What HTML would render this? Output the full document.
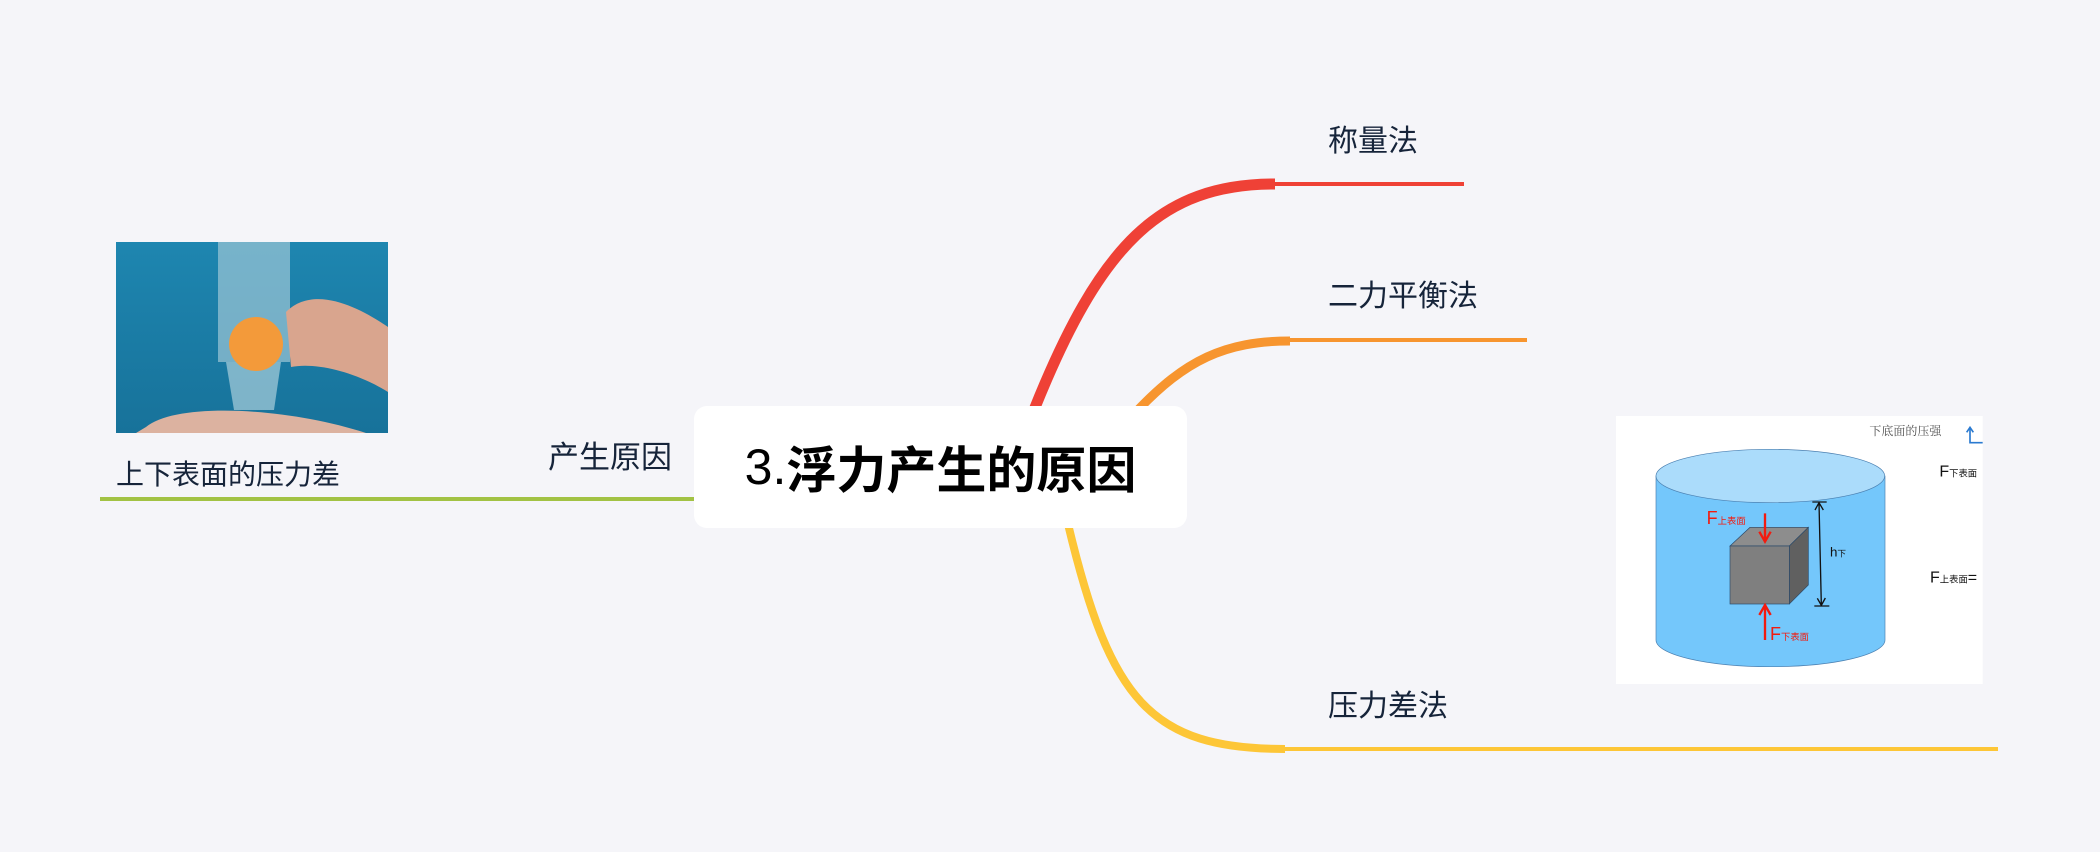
<!DOCTYPE html>
<html><head><meta charset="utf-8"><style>
html,body{margin:0;padding:0}
body{width:2100px;height:852px;background:#f5f5f9;position:relative;overflow:hidden;font-family:"Liberation Sans","Noto Sans CJK SC",sans-serif}
.t{position:absolute;font-size:30px;color:#16243a;line-height:1;white-space:nowrap}
#box{position:absolute;left:694px;top:406px;width:493px;height:122px;background:#fff;border-radius:13px}
#box span{position:absolute;left:0;right:0;top:0;bottom:0;display:flex;align-items:center;justify-content:center;font-size:50px;font-weight:bold;color:#000}
#box b{font-weight:normal}
</style></head><body>
<svg width="2100" height="852" style="position:absolute;left:0;top:0">
<path d="M1034 410 C1100 245 1160 184 1275 184" fill="none" stroke="#ef4136" stroke-width="11"/>
<path d="M1270 184 L1464 184" stroke="#ef4136" stroke-width="4"/>
<path d="M1136 412 C1185 360 1225 341 1290 341" fill="none" stroke="#f7952f" stroke-width="9"/>
<path d="M1285 340 L1527 340" stroke="#f7952f" stroke-width="4"/>
<path d="M1068 524 C1110 700 1150 749 1285 749" fill="none" stroke="#fdc637" stroke-width="8"/>
<path d="M1280 749 L1998 749" stroke="#fdc637" stroke-width="4"/>
<path d="M100 499 L716 499" stroke="#a2c244" stroke-width="4"/>
</svg>
<div id="box"><span><b>3.</b>浮力产生的原因</span></div>
<div class="t" style="left:1328px;top:127px">称量法</div>
<div class="t" style="left:1328px;top:282px">二力平衡法</div>
<div class="t" style="left:1328px;top:692px">压力差法</div>
<div class="t" style="left:548px;top:442px;font-size:31px">产生原因</div>
<div class="t" style="left:116px;top:461px;font-size:28px">上下表面的压力差</div>
<svg style="position:absolute;left:116px;top:242px" width="272" height="191" viewBox="0 0 272 191">
<defs><linearGradient id="bg" x1="0" y1="0" x2="0" y2="1"><stop offset="0" stop-color="#1e86b0"/><stop offset="1" stop-color="#17729a"/></linearGradient></defs>
<rect width="272" height="191" fill="url(#bg)"/>
<rect x="102" y="0" width="72" height="120" fill="#9cc6d6" opacity="0.7"/>
<path d="M110 120 L165 120 L158 168 L118 168 Z" fill="#a9cfdc" opacity="0.7"/>
<path d="M170 70 C200 40 250 70 272 85 L272 150 C240 130 200 120 175 125 Z" fill="#d9a58e"/>
<circle cx="140" cy="102" r="27" fill="#f39a3a"/>
<path d="M30 185 C60 160 170 165 250 191 L20 191 Z" fill="#dcb2a0"/>
</svg>
<svg style="position:absolute;left:1600px;top:400px" width="400" height="300" viewBox="0 0 1200 900">
<rect x="48" y="48" width="1100" height="804" fill="#fff"/>
<text x="808" y="105" font-family="Liberation Serif,Noto Serif CJK SC,serif" font-size="36" fill="#555">下底面的压强</text>
<path d="M1110 85 L1110 128 L1148 128" fill="none" stroke="#2a7ad0" stroke-width="5"/>
<path d="M1100 97 L1110 82 L1120 97" fill="none" stroke="#2a7ad0" stroke-width="5"/>
<text x="1018" y="230" font-size="48" fill="#111" font-family="Liberation Sans,sans-serif">F<tspan font-size="28" font-family="Noto Sans CJK SC,sans-serif">下表面</tspan></text>
<text x="990" y="548" font-size="48" fill="#111" font-family="Liberation Sans,sans-serif">F<tspan font-size="28" font-family="Noto Sans CJK SC,sans-serif">上表面</tspan>=</text>
<path d="M168 228 L168 720 A343 80 0 0 0 855 720 L855 228 Z" fill="#74c7fb" stroke="#4a7fb0" stroke-width="2"/>
<ellipse cx="511" cy="228" rx="343" ry="80" fill="#abdcfb" stroke="#4a7fb0" stroke-width="2"/>
<polygon points="390,438 450,382 625,382 568,438" fill="#8d8d8d" stroke="#2b4a6a" stroke-width="2"/>
<polygon points="568,438 625,382 625,555 568,612" fill="#606060" stroke="#2b4a6a" stroke-width="2"/>
<rect x="390" y="438" width="178" height="174" fill="#7f7f7f" stroke="#2b4a6a" stroke-width="2"/>
<path d="M495 340 L495 420 M478 395 L495 425 L512 395" fill="none" stroke="#f21b0f" stroke-width="7"/>
<path d="M495 720 L495 620 M478 645 L495 615 L512 645" fill="none" stroke="#f21b0f" stroke-width="7"/>
<text x="320" y="372" font-size="54" fill="#f21b0f" font-family="Liberation Sans,sans-serif">F<tspan font-size="28" font-family="Noto Sans CJK SC,sans-serif">上表面</tspan></text>
<text x="510" y="720" font-size="54" fill="#f21b0f" font-family="Liberation Sans,sans-serif">F<tspan font-size="28" font-family="Noto Sans CJK SC,sans-serif">下表面</tspan></text>
<path d="M657 308 L664 616 M637 306 L680 306 M643 618 L688 618 M645 330 L657 308 L670 330 M652 595 L664 616 L676 594" fill="none" stroke="#111" stroke-width="4"/>
<text x="690" y="470" font-size="40" fill="#111" font-family="Liberation Sans,sans-serif">h<tspan font-size="26" font-family="Noto Sans CJK SC,sans-serif">下</tspan></text>
</svg>
</body></html>
